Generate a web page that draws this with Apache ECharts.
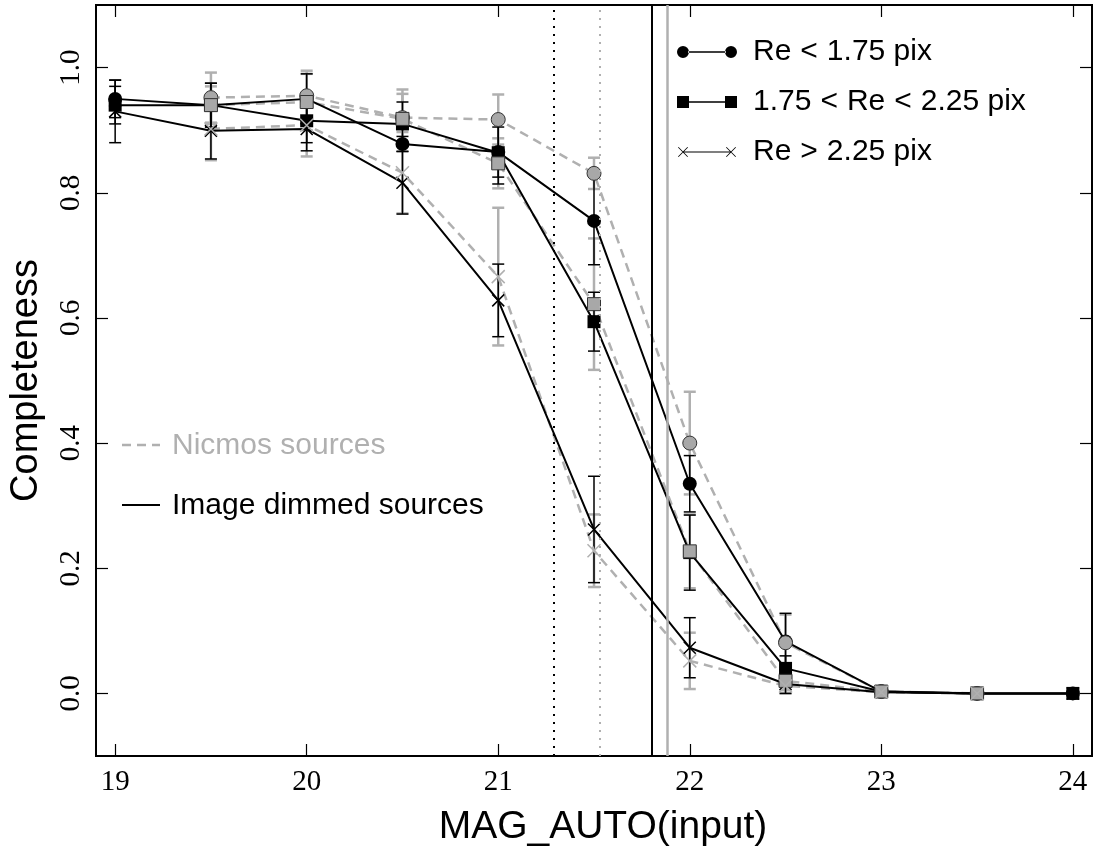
<!DOCTYPE html>
<html>
<head>
<meta charset="utf-8">
<script src="https://cdn.jsdelivr.net/npm/echarts@6/dist/echarts.min.js"></script>
<style>
html,body{margin:0;padding:0;background:#fff;}
#chart{width:1094px;height:852px;}
</style>
</head>
<body>
<div id="chart"></div>
<script>
// ---------------- data ----------------
const magnitudes = [19, 19.5, 20, 20.5, 21, 21.5, 22, 22.5, 23, 23.5, 24];
const xTicks = [19, 20, 21, 22, 23, 24];
const yTicks = [0.0, 0.2, 0.4, 0.6, 0.8, 1.0];

// Image dimmed sources (black)
const dimSmall     = [0.950, 0.940, 0.950, 0.878, 0.865, 0.755, 0.335, 0.083, 0.003, 0.0, 0.0];
const dimSmallErr  = [0.030, 0.035, 0.040, 0.012, 0.040, 0.070, 0.045, 0.045, 0.005, 0.0, 0.0];
const dimMid       = [0.940, 0.940, 0.915, 0.910, 0.864, 0.594, 0.225, 0.040, 0.003, 0.0, 0.0];
const dimMidErr    = [0.030, 0.035, 0.035, 0.035, 0.050, 0.047, 0.060, 0.020, 0.005, 0.0, 0.0];
const dimLarge     = [0.930, 0.899, 0.902, 0.816, 0.628, 0.262, 0.073, 0.015, 0.002, 0.0, 0.0];
const dimLargeErr  = [0.050, 0.045, 0.035, 0.050, 0.058, 0.085, 0.048, 0.015, 0.003, 0.0, 0.0];

// Nicmos sources (grey) - no points at 19 and 24
const nicSmall     = [null, 0.952, 0.955, 0.920, 0.917, 0.831, 0.400, 0.081, 0.003, 0.0, null];
const nicSmallErr  = [null, 0.040, 0.040, 0.045, 0.040, 0.025, 0.082, 0.045, 0.005, 0.0, null];
const nicMid       = [null, 0.940, 0.945, 0.918, 0.847, 0.622, 0.227, 0.020, 0.003, 0.0, null];
const nicMidErr    = [null, 0.030, 0.045, 0.040, 0.040, 0.105, 0.059, 0.015, 0.005, 0.0, null];
const nicLarge     = [null, 0.902, 0.908, 0.832, 0.666, 0.228, 0.052, 0.012, 0.002, 0.0, null];
const nicLargeErr  = [null, 0.050, 0.050, 0.065, 0.110, 0.058, 0.045, 0.012, 0.003, 0.0, null];

// 50% completeness limits (vertical lines)
const limitDimDotted = 21.29;
const limitNicDotted = 21.53;
const limitDimSolid  = 21.80;
const limitNicSolid  = 21.88;

const legendNames = ['Re<1.75 pix', '1.75<Re<2.25 pix', 'Re>2.25 pix'];

// ---------------- helpers ----------------
const BLACK = '#000000';
const GREY = '#b0b0b0';
const GREY_FILL = '#a8a8a8';
const X_PATH = 'path://M0,0L10,10M10,0L0,10';

function pairs(vals) {
  const out = [];
  magnitudes.forEach((m, i) => { if (vals[i] !== null) out.push([m, vals[i]]); });
  return out;
}
function errs(vals, e) {
  const out = [];
  magnitudes.forEach((m, i) => {
    if (vals[i] !== null && e[i] > 0) out.push([m, vals[i] - e[i], vals[i] + e[i]]);
  });
  return out;
}
function errorSeries(vals, e, color, width) {
  return {
    type: 'custom', silent: true, z: 2,
    data: errs(vals, e),
    renderItem: function (params, api) {
      const x = api.value(0), lo = api.value(1), hi = api.value(2);
      const p1 = api.coord([x, lo]), p2 = api.coord([x, hi]);
      const w = 6;
      const st = { stroke: color, lineWidth: width };
      return { type: 'group', children: [
        { type: 'line', shape: { x1: p1[0], y1: p1[1], x2: p2[0], y2: p2[1] }, style: st },
        { type: 'line', shape: { x1: p1[0] - w, y1: p1[1], x2: p1[0] + w, y2: p1[1] }, style: st },
        { type: 'line', shape: { x1: p2[0] - w, y1: p2[1], x2: p2[0] + w, y2: p2[1] }, style: st }
      ]};
    }
  };
}
function lineSeries(name, vals, color, dashed) {
  return {
    name: name, type: 'line', z: 3, showSymbol: false, symbol: 'none',
    data: pairs(vals), silent: true,
    itemStyle: { color: color },
    lineStyle: { color: color, width: dashed ? 2.5 : 2, type: dashed ? [9, 6] : 'solid' }
  };
}
function markerSeries(name, vals, symbol, size, fill, border, bw) {
  return {
    name: name, type: 'scatter', z: 4, symbol: symbol, symbolSize: size,
    data: pairs(vals), silent: true,
    itemStyle: { color: fill, borderColor: border, borderWidth: bw, opacity: 1 }
  };
}

const iconCircle = 'path://M0,7a6,6 0 1,0 12,0a6,6 0 1,0 -12,0z M11,6.2h38v1.6h-38z M48,7a6,6 0 1,0 12,0a6,6 0 1,0 -12,0z';
const iconSquare = 'path://M0,1h12v12h-12z M11,6.2h38v1.6h-38z M48,1h12v12h-12z';
const iconCross = 'path://M1,2.6L1.6,2L11,11.4L10.4,12z M10.4,2L11,2.6L1.6,12L1,11.4z M6,6.4h48v1.2h-48z M49,2.6L49.6,2L59,11.4L58.4,12z M58.4,2L59,2.6L49.6,12L49,11.4z M0,0h0.01v0.01z M59.99,13.99h0.01v0.01z';

function axisCommon(pos) {
  return {
    axisLine: { show: false, onZero: false },
    axisTick: { show: true, inside: true, length: 12, lineStyle: { color: BLACK, width: 1.2 } },
    splitLine: { show: false },
    position: pos
  };
}

const legendText = n => n.replace(/[<>]/g, m => '{op|' + m + '}');

const option = {
  animation: false,
  backgroundColor: '#ffffff',
  grid: { left: 95, right: 2, top: 5, bottom: 96, show: true, borderColor: BLACK, borderWidth: 2, backgroundColor: 'transparent' },
  xAxis: [
    Object.assign(axisCommon('bottom'), {
      type: 'value', min: 18.9, max: 24.1,
      name: 'MAG_AUTO(input)', nameLocation: 'middle', nameGap: 52,
      nameTextStyle: { fontFamily: 'Liberation Sans', fontSize: 39, color: BLACK, padding: [0, 0, 0, 18] },
      axisTick: { show: true, inside: true, length: 12, customValues: xTicks, lineStyle: { color: BLACK, width: 1.2 } },
      axisLabel: { show: true, customValues: xTicks, margin: 12, fontFamily: 'Liberation Serif', fontSize: 29, color: BLACK }
    }),
    Object.assign(axisCommon('top'), {
      type: 'value', min: 18.9, max: 24.1,
      axisTick: { show: true, inside: true, length: 12, customValues: xTicks, lineStyle: { color: BLACK, width: 1.2 } },
      axisLabel: { show: false }
    })
  ],
  yAxis: [
    Object.assign(axisCommon('left'), {
      type: 'value', min: -0.1, max: 1.1,
      name: 'Completeness', nameLocation: 'middle', nameGap: 50, nameRotate: 90,
      nameTextStyle: { fontFamily: 'Liberation Sans', fontSize: 38, color: BLACK },
      axisTick: { show: true, inside: true, length: 12, customValues: yTicks, lineStyle: { color: BLACK, width: 1.2 } },
      axisLabel: { show: true, customValues: yTicks, rotate: 90, margin: 10, fontFamily: 'Liberation Serif', fontSize: 29, color: BLACK,
        formatter: v => v.toFixed(1) }
    }),
    Object.assign(axisCommon('right'), {
      type: 'value', min: -0.1, max: 1.1,
      axisTick: { show: true, inside: true, length: 12, customValues: yTicks, lineStyle: { color: BLACK, width: 1.2 } },
      axisLabel: { show: false }
    })
  ],
  legend: {
    left: 672, top: 29, orient: 'vertical', itemGap: 14,
    itemWidth: 60, itemHeight: 14,
    formatter: legendText,
    textStyle: { fontFamily: 'Liberation Sans', fontSize: 30, color: BLACK, lineHeight: 36, padding: [0, 0, 0, 11],
      rich: { op: { fontFamily: 'Liberation Sans', fontSize: 30, lineHeight: 36, color: BLACK, padding: [0, 9, 0, 9] } } },
    itemStyle: { borderWidth: 0 },
    selectedMode: false,
    data: [
      { name: legendNames[0], icon: iconCircle },
      { name: legendNames[1], icon: iconSquare },
      { name: legendNames[2], icon: iconCross }
    ]
  },
  graphic: [
    { type: 'line', x: 122, y: 445, shape: { x1: 0, y1: 0, x2: 38, y2: 0 }, style: { stroke: GREY, lineWidth: 2.5, lineDash: [9, 6] } },
    { type: 'text', x: 172, y: 446, style: { text: 'Nicmos sources', fill: GREY, font: '30px "Liberation Sans"', verticalAlign: 'middle' } },
    { type: 'line', x: 122, y: 505, shape: { x1: 0, y1: 0, x2: 38, y2: 0 }, style: { stroke: BLACK, lineWidth: 2 } },
    { type: 'text', x: 172, y: 506, style: { text: 'Image dimmed sources', fill: BLACK, font: '30px "Liberation Sans"', verticalAlign: 'middle' } }
  ],
  series: [
    {
      type: 'line', data: [], silent: true, z: 1,
      markLine: {
        silent: true, symbol: 'none', label: { show: false }, animation: false,
        data: [
          { xAxis: limitDimDotted, lineStyle: { color: BLACK, width: 2, type: [2, 6] } },
          { xAxis: limitNicDotted, lineStyle: { color: GREY, width: 2, type: [2, 6] } },
          { xAxis: limitDimSolid,  lineStyle: { color: BLACK, width: 2, type: 'solid' } },
          { xAxis: limitNicSolid,  lineStyle: { color: GREY, width: 2.5, type: 'solid' } }
        ]
      }
    },
    errorSeries(nicSmall, nicSmallErr, GREY, 2.5),
    errorSeries(nicMid, nicMidErr, GREY, 2.5),
    errorSeries(nicLarge, nicLargeErr, GREY, 2.5),
    errorSeries(dimSmall, dimSmallErr, BLACK, 1.5),
    errorSeries(dimMid, dimMidErr, BLACK, 1.5),
    errorSeries(dimLarge, dimLargeErr, BLACK, 1.5),
    lineSeries('Nicmos Re<1.75', nicSmall, GREY, true),
    lineSeries('Nicmos 1.75-2.25', nicMid, GREY, true),
    lineSeries('Nicmos Re>2.25', nicLarge, GREY, true),
    lineSeries(legendNames[0], dimSmall, BLACK, false),
    lineSeries(legendNames[1], dimMid, BLACK, false),
    lineSeries(legendNames[2], dimLarge, BLACK, false),
    markerSeries(legendNames[0], dimSmall, 'circle', 14, BLACK, BLACK, 0),
    markerSeries(legendNames[1], dimMid, 'rect', 13, BLACK, BLACK, 0),
    markerSeries(legendNames[2], dimLarge, X_PATH, 12, 'rgba(0,0,0,0)', BLACK, 1.5),
    markerSeries('Nicmos Re<1.75 m', nicSmall, 'circle', 14, GREY_FILL, '#333333', 1),
    markerSeries('Nicmos 1.75-2.25 m', nicMid, 'rect', 13, GREY_FILL, '#333333', 1),
    markerSeries('Nicmos Re>2.25 m', nicLarge, X_PATH, 13, 'rgba(0,0,0,0)', GREY, 1.5)
  ]
};

const chart = echarts.init(document.getElementById('chart'), null, { renderer: 'canvas' });
chart.setOption(option);
</script>
</body>
</html>
